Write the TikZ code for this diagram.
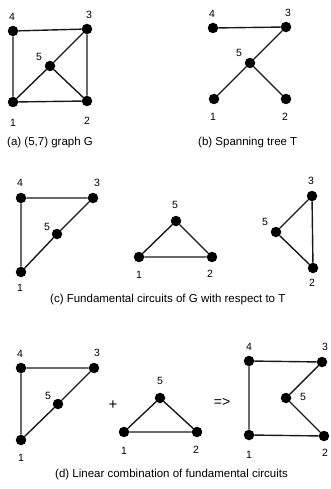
\documentclass[tikz,border=0pt]{standalone}
\usepackage{fontspec}
\setmainfont{Liberation Sans}
\begin{document}
\begin{tikzpicture}[x=1pt,y=-1pt,
  v/.style={circle,fill=black,inner sep=0pt,minimum size=10.5pt},
  e/.style={line width=1.4pt,draw=black!90},
  lab/.style={font=\fontsize{10.5}{12}\selectfont,inner sep=0pt},
  captxt/.style={font=\fontsize{11.5}{14}\selectfont,inner sep=0pt}]
\useasboundingbox (0,0) rectangle (331,489);
% (a)
\node[v] (a4) at (13,31) {};
\node[v] (a3) at (87,29) {};
\node[v] (a5) at (50,66) {};
\node[v] (a1) at (13,102) {};
\node[v] (a2) at (87,101) {};
\draw[e] (a4)--(a3) (a4)--(a1) (a3)--(a2) (a1)--(a2) (a1)--(a5) (a5)--(a3) (a5)--(a2);
\node[lab] (la4) at (12,17) {4};
\node[lab] (la3) at (89,15) {3};
\node[lab] (la5) at (39,57) {5};
\node[lab] (la1) at (13,123) {1};
\node[lab] (la2) at (87,121) {2};
\node[captxt,anchor=west] (capa) at (7,143) {(a) (5,7) graph G};
% (b)
\node[v] (b4) at (213,28) {};
\node[v] (b3) at (286,27) {};
\node[v] (b5) at (250,63) {};
\node[v] (b1) at (214,99) {};
\node[v] (b2) at (286,99) {};
\draw[e] (b4)--(b3) (b3)--(b5) (b5)--(b1) (b5)--(b2);
\node[lab] (lb4) at (212,14) {4};
\node[lab] (lb3) at (288,13) {3};
\node[lab] (lb5) at (239,53) {5};
\node[lab] (lb1) at (213,117) {1};
\node[lab] (lb2) at (285,117) {2};
\node[captxt,anchor=west] (capb) at (198,143) {(b) Spanning tree T};
% (c) left
\node[v] (c4) at (21,198) {};
\node[v] (c3) at (93,198) {};
\node[v] (c5) at (57,234) {};
\node[v] (c1) at (21,272) {};
\draw[e] (c4)--(c3) (c3)--(c5) (c5)--(c1) (c1)--(c4);
\node[lab] (lc4) at (20,183) {4};
\node[lab] (lc3) at (97,183) {3};
\node[lab] (lc5) at (47,227) {5};
\node[lab] (lc1) at (20,288) {1};
% (c) middle
\node[v] (d5) at (176,221) {};
\node[v] (d1) at (139,257) {};
\node[v] (d2) at (212,257) {};
\draw[e] (d5)--(d1) (d1)--(d2) (d2)--(d5);
\node[lab] (ld5) at (175,205) {5};
\node[lab] (ld1) at (139,275) {1};
\node[lab] (ld2) at (210,274) {2};
% (c) right
\node[v] (f3) at (312,196) {};
\node[v] (f5) at (276,232) {};
\node[v] (f2) at (313,268) {};
\draw[e] (f3)--(f5) (f5)--(f2) (f2)--(f3);
\node[lab] (lf3) at (311,181) {3};
\node[lab] (lf5) at (265,222) {5};
\node[lab] (lf2) at (312,283) {2};
\node[captxt,anchor=west] (capc) at (50,300) {(c) Fundamental circuits of G with respect to T};
% (d) left
\node[v] (g4) at (21,368) {};
\node[v] (g3) at (94,368) {};
\node[v] (g5) at (58,404) {};
\node[v] (g1) at (21,440) {};
\draw[e] (g4)--(g3) (g3)--(g5) (g5)--(g1) (g1)--(g4);
\node[lab] (lg4) at (20,354) {4};
\node[lab] (lg3) at (97,353) {3};
\node[lab] (lg5) at (48,396) {5};
\node[lab] (lg1) at (21,458) {1};
\node[font=\fontsize{15}{16}\selectfont,inner sep=0pt] (plus) at (113,405) {+};
% (d) middle
\node[v] (h5) at (160,398) {};
\node[v] (h1) at (124,432) {};
\node[v] (h2) at (197,432) {};
\draw[e] (h5)--(h1) (h1)--(h2) (h2)--(h5);
\node[lab] (lh5) at (160,381) {5};
\node[lab] (lh1) at (124,451) {1};
\node[lab] (lh2) at (196,450) {2};
\node[font=\fontsize{14}{16}\selectfont,inner sep=0pt] (impl) at (222,402) {=>};
% (d) right
\node[v] (k4) at (249,361) {};
\node[v] (k3) at (322,362) {};
\node[v] (k5) at (286,398) {};
\node[v] (k1) at (249,435) {};
\node[v] (k2) at (324,436) {};
\draw[e] (k4)--(k3) (k3)--(k5) (k5)--(k2) (k2)--(k1) (k1)--(k4);
\node[lab] (lk4) at (249,347) {4};
\node[lab] (lk3) at (325,347) {3};
\node[lab] (lk5) at (303,397) {5};
\node[lab] (lk1) at (249,455) {1};
\node[lab] (lk2) at (325,453) {2};
\node[captxt,anchor=west] (capd) at (55,475) {(d) Linear combination of fundamental circuits};
\end{tikzpicture}
\end{document}
